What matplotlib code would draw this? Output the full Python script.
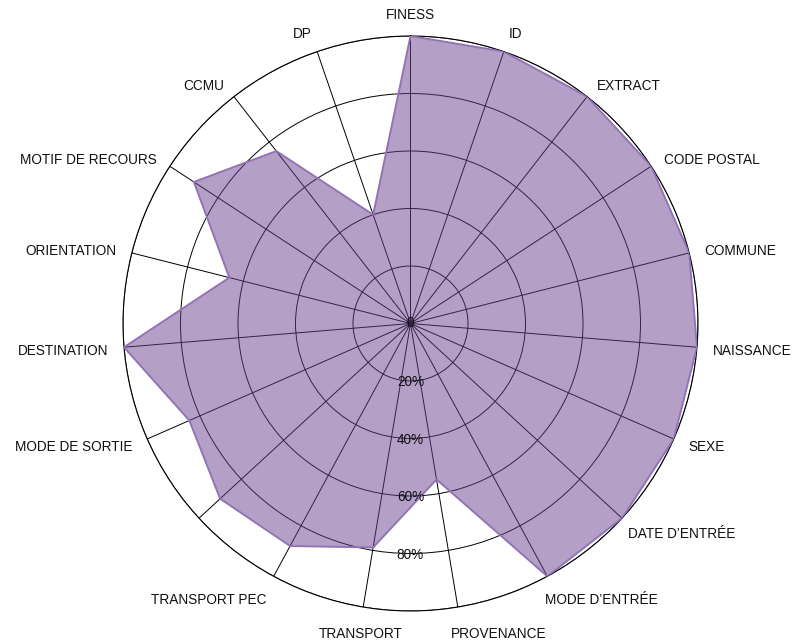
import numpy as np
import matplotlib
matplotlib.use("Agg")
import matplotlib.pyplot as plt

plt.rcParams["font.family"] = ["Liberation Sans", "DejaVu Sans"]

# one spoke has no visible label in the original
categories = ["FINESS", "ID", "EXTRACT", "CODE POSTAL", "COMMUNE", "NAISSANCE",
              "SEXE", "DATE D\u2019ENTRÉE", "MODE D\u2019ENTRÉE", "PROVENANCE",
              "TRANSPORT", "TRANSPORT PEC", "", "MODE DE SORTIE", "DESTINATION",
              "ORIENTATION", "MOTIF DE RECOURS", "CCMU", "DP"]
values = [100, 100, 100, 100, 100, 100, 100, 100, 100, 55,
          79, 88, 90, 84, 100, 65, 90, 76, 40]
ring_ticks = [20, 40, 60, 80, 100]
ring_labels = ["20%", "40%", "60%", "80%"]

n = len(categories)
angles = np.arange(n) * 2 * np.pi / n

fig = plt.figure(figsize=(7.93, 6.43), dpi=100)
ax = fig.add_axes([0.1551, 0.0498, 0.7251, 0.8942], projection="polar")
ax.set_theta_zero_location("N")
ax.set_theta_direction(-1)
ax.set_ylim(0, 100)

# grid
ax.set_xticks(angles)
ax.set_xticklabels([])
ax.set_yticks(ring_ticks)
ax.set_yticklabels([])
ax.grid(True, color="black", linewidth=0.7)
ax.spines["polar"].set_color("black")
ax.spines["polar"].set_linewidth(0.8)

# series
a = np.append(angles, angles[0])
v = np.append(values, values[0])
ax.fill(a, v, color="#6b4391", alpha=0.5, zorder=3, linewidth=0)
ax.plot(a, v, color="#9274b5", linewidth=1.4, zorder=4)

# category labels
for ang, lab in zip(angles, categories):
    s, c = np.sin(ang), np.cos(ang)
    if s > 0.05:
        ha = "left"
    elif s < -0.2:
        ha = "right"
    else:
        ha = "center"
    # labels near the bottom sit a bit lower, near the top a bit higher
    dy = 2 + max(0, -c - 0.5) * 20 - max(0, c - 0.85) * 47
    dx = -10 * min(1, max(0, (-c - 0.4) / 0.5)) if ha == "left" else 0
    ax.annotate(lab, xy=(ang, 105.5), xytext=(dx, -dy), textcoords="offset pixels",
                ha=ha, va="center", fontsize=9.8, color="#111111",
                annotation_clip=False)

# radial labels along the downward axis
ax.text(0, 0, "0", ha="center", va="center", fontsize=9.8, color="#111111", zorder=5)
for r, lab in zip(ring_ticks, ring_labels):
    ax.text(np.pi, r + 0.5, lab, ha="center", va="center", fontsize=9.8,
            color="#111111", zorder=5)

fig.savefig("out.png", dpi=100)
